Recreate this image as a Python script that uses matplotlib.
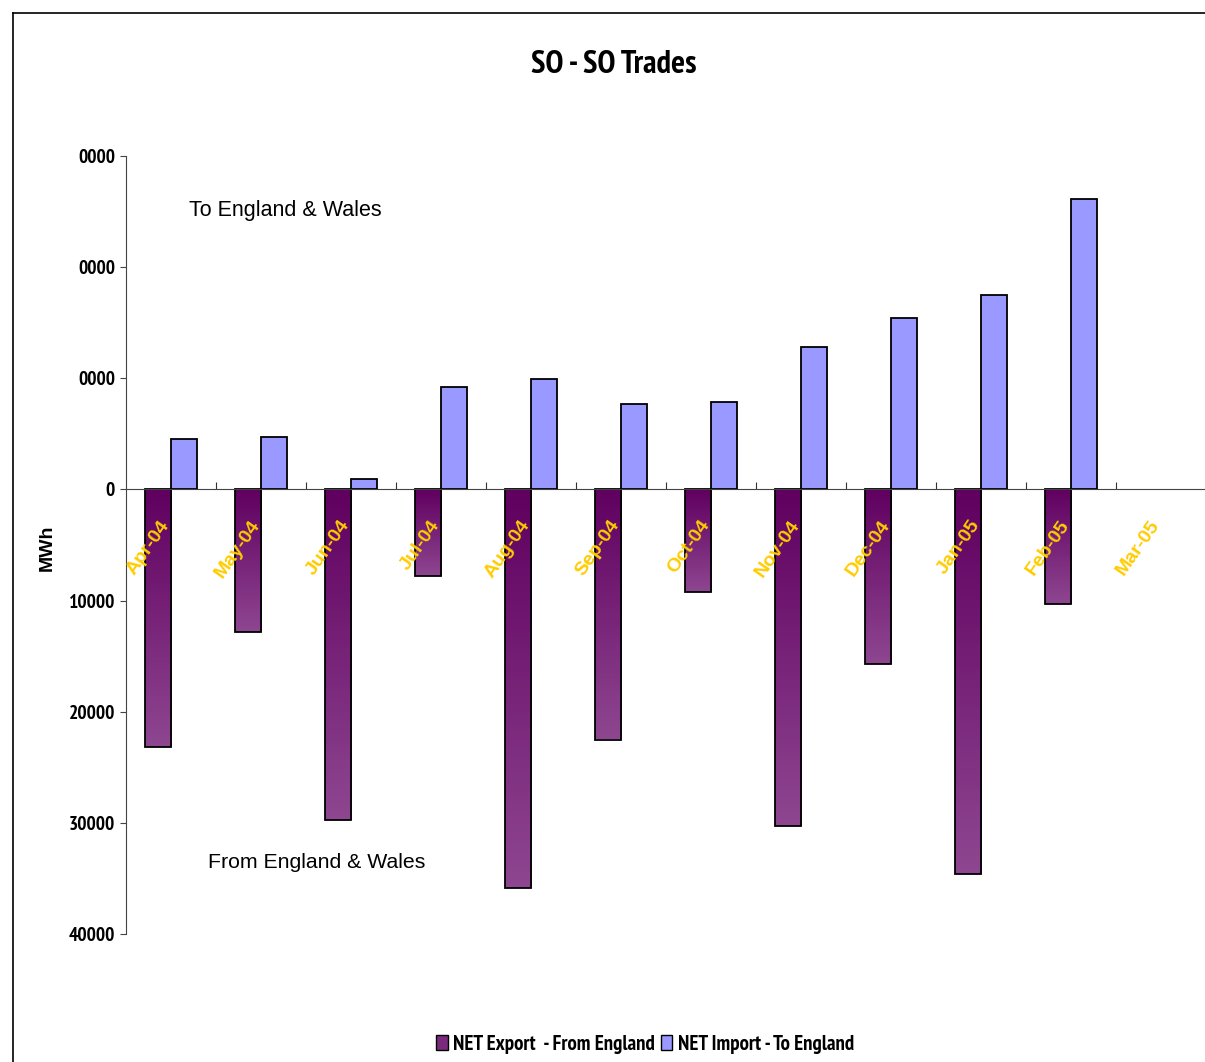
import numpy as np
import matplotlib
matplotlib.use('Agg')
import matplotlib.pyplot as plt
from matplotlib import font_manager as fm
from matplotlib.colors import LinearSegmentedColormap
from matplotlib.patches import Rectangle
from matplotlib.lines import Line2D

# Data (MWh)
months = ['Apr-04', 'May-04', 'Jun-04', 'Jul-04', 'Aug-04', 'Sep-04',
          'Oct-04', 'Nov-04', 'Dec-04', 'Jan-05', 'Feb-05', 'Mar-05']
net_export = [-23150, -12800, -29700, -7750, -35850, -22500,
              -9200, -30250, -15750, -34600, -10350, 0]
net_import = [4500, 4700, 900, 9200, 9900, 7650,
              7850, 12800, 15400, 17500, 26100, 0]
ytick_vals = [-40000, -30000, -20000, -10000, 0, 10000, 20000, 30000]
ytick_labels = ['40000', '30000', '20000', '10000', '0', '0000', '0000', '0000']


# pick a condensed family that really has a bold face
def has_bold(name):
    for f in fm.fontManager.ttflist:
        w = f.weight if isinstance(f.weight, int) else fm.weight_dict.get(f.weight, 400)
        if f.name == name and w >= 600:
            return True
    return False


cands = ['Liberation Sans Narrow', 'Arial Narrow', 'PT Sans Narrow', 'Archivo Narrow',
         'Roboto Condensed', 'Open Sans Condensed']
narrow_name = next((c for c in cands if has_bold(c)), None)
if narrow_name:
    narrow = [narrow_name, 'DejaVu Sans']
    nscale = 1.0
else:
    narrow = ['Liberation Sans', 'DejaVu Sans']
    nscale = 0.82

plt.rcParams['font.family'] = ['Liberation Sans', 'DejaVu Sans']

W, H = 1205, 1062
fig = plt.figure(figsize=(W / 100, H / 100), dpi=100)
ax = fig.add_axes([126 / W, 1 - 934 / H, 1080 / W, 778 / H])

x = np.arange(len(months))
bw = 0.29
grad = LinearSegmentedColormap.from_list('grad', ['#600060', '#8E4690'])

for xi, v in zip(x, net_export):
    if v == 0:
        continue
    rect = Rectangle((xi - bw, v), bw, -v, facecolor='none', edgecolor='black', lw=1.3, zorder=3)
    ax.add_patch(rect)
    img = ax.imshow(np.linspace(0, 1, 100).reshape(-1, 1), cmap=grad, aspect='auto',
                    extent=[xi - bw, xi, v, 0], origin='upper', zorder=2)
    img.set_clip_path(rect)

imp = np.array(net_import)
keep = imp != 0
ax.bar(x[keep] + bw / 2, imp[keep], bw, color='#9999FF', edgecolor='black', lw=1.3, zorder=3)

ax.set_xlim(-0.5, 11.5)
ax.set_ylim(-40000, 30000)

ax.spines['top'].set_visible(False)
ax.spines['right'].set_visible(False)
ax.spines['bottom'].set_position(('data', 0))
ax.spines['bottom'].set_color('#444444')
ax.spines['left'].set_color('#444444')
ax.spines['bottom'].set_zorder(4)

ax.set_yticks(ytick_vals)
ax.set_yticklabels(ytick_labels, fontfamily=narrow, fontweight='bold', fontsize=14 * nscale)
ax.tick_params(axis='y', length=4.5, color='#444444', pad=3.5)

# month labels sit below the zero line, on top of the bars
ax.set_xticks(x[:-1] + 0.5)
ax.set_xticklabels([])
ax.tick_params(axis='x', length=5, direction='in', color='#333333')
for xi, m in zip(x, months):
    ax.text(xi - 0.13, -2500, m, rotation=55, ha='right', va='top', rotation_mode='anchor',
            color='#FFCC00', fontweight='bold', fontsize=14, zorder=6, clip_on=False)

ax.set_ylabel('MWh', fontweight='bold', fontsize=14)
ax.yaxis.set_label_coords(-70 / 1080, 0.496)

fig.text(189 / W, 1 - 210 / H, 'To England & Wales', fontsize=15.5, va='center')
fig.text(208 / W, 1 - 862 / H, 'From England & Wales', fontsize=15.3, va='center')

fig.text(614 / W, 1 - 65 / H, 'SO - SO Trades', fontfamily=narrow, fontweight='bold',
         fontsize=23.5 * nscale, ha='center', va='center')

# outer chart border
fig.add_artist(Line2D([13 / W, 1], [1 - 13 / H, 1 - 13 / H], color='black', lw=1.2))
fig.add_artist(Line2D([13 / W, 13 / W], [0, 1 - 13 / H], color='black', lw=1.2))

handles = [Rectangle((0, 0), 1, 1, facecolor='#7A2A7A', edgecolor='black'),
           Rectangle((0, 0), 1, 1, facecolor='#9999FF', edgecolor='black')]
fig.legend(handles, ['NET Export  - From England', 'NET Import - To England'],
           loc='center', bbox_to_anchor=(645 / W, 1 - 1044 / H), ncol=2, frameon=False,
           handlelength=0.55, handleheight=0.75, handletextpad=0.25, columnspacing=0.3,
           prop={'family': narrow, 'weight': 'bold', 'size': 15 * nscale})

fig.savefig('out.png', dpi=100)
